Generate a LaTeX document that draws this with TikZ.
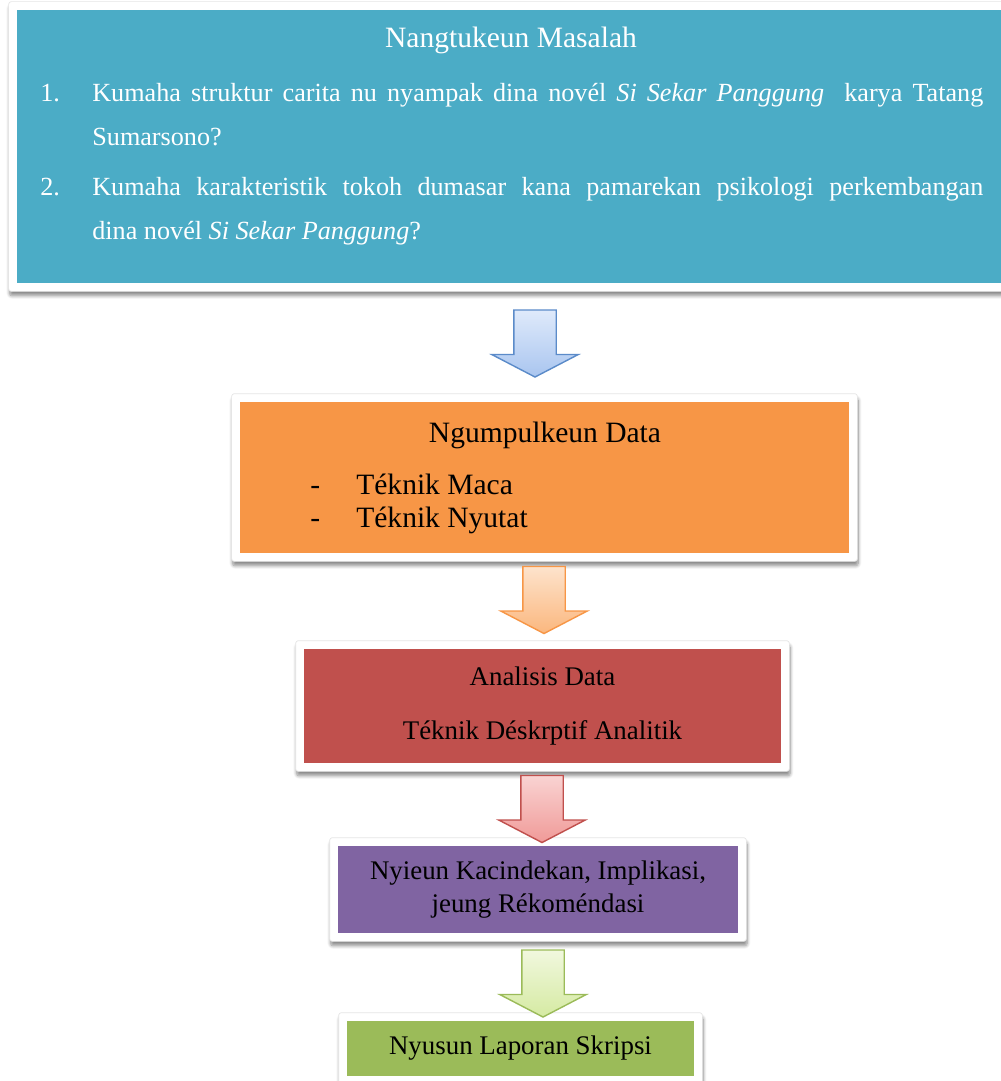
\documentclass[tikz,border=0pt]{standalone}
\usepackage{fontspec}
\setmainfont{Liberation Serif}
\usetikzlibrary{shapes.arrows,shadows.blur,fit,backgrounds}

\definecolor{aqua}{HTML}{4BACC6}
\definecolor{tangerine}{HTML}{F79646}
\definecolor{brick}{HTML}{C0504D}
\definecolor{lilac}{HTML}{8064A2}
\definecolor{olive}{HTML}{9BBB59}
\definecolor{aquaarrow}{HTML}{5B8BC9}
\definecolor{bluetop}{HTML}{DFEAFB}
\definecolor{bluebot}{HTML}{A9C5EF}
\definecolor{orangetop}{HTML}{FDE3CC}
\definecolor{orangebot}{HTML}{FBB77E}
\definecolor{redtop}{HTML}{F9D3D2}
\definecolor{redbot}{HTML}{F09A98}
\definecolor{greentop}{HTML}{F1F8DE}
\definecolor{greenbot}{HTML}{D5EAA2}

\tikzset{
  box/.style={rectangle, inner sep=0pt, align=center, fill=#1},
  frame/.style={rectangle, fill=white, draw=black!10, rounded corners=1.5pt, inner sep=0.16cm,
    blur shadow={shadow xshift=0.5pt, shadow yshift=-2.5pt, shadow blur steps=8, shadow opacity=45}},
  blockarrow/.style n args={3}{single arrow, shape border rotate=270, draw=#1, line width=0.8pt,
    top color=#2, bottom color=#3, inner sep=0.41cm, minimum height=1.34cm,
    single arrow head extend=0.44cm, single arrow tip angle=125},
  txt/.style={font=\fontsize{16.8}{25}\selectfont},
  small/.style={font=\fontsize{15.3}{#1}\selectfont}
}

\begin{document}
\begin{tikzpicture}[x=0.2mm, y=-0.2mm]
  \useasboundingbox (0,0) rectangle (1000,1081);

  % boxes
  \node[box=aqua, minimum width=19.86cm, minimum height=5.46cm] (masalah) at (513.5,146.5) {};
  \node[box=tangerine, minimum width=12.18cm, minimum height=3.02cm] (data) at (544.5,477.5) {};
  \node[box=brick, minimum width=9.54cm, minimum height=2.28cm, small=31]
    (analisis) at (542.5,706) {Analisis Data\\Téknik Déskrptif Analitik};
  \node[box=lilac, minimum width=8cm, minimum height=1.74cm, small=19]
    (kacindekan) at (538,889.5) {Nyieun Kacindekan, Implikasi,\\jeung Rékoméndasi};
  \node[box=olive, minimum width=6.94cm, minimum height=1.1cm, small=19] (laporan) at (520.5,1048.5)
    {\raisebox{-3pt}{Nyusun Laporan Skripsi}};

  \begin{scope}[on background layer]
    \foreach \b in {masalah,data,analisis,kacindekan,laporan}
      \node[frame, fit=(\b)] {};
  \end{scope}

  % texts
  \node[txt, text=white] (judul) at (511,40) {Nangtukeun Masalah};
  \node[font=\fontsize{14.9}{25}\selectfont, text=white, anchor=north west, text width=18.86cm,
        align=justify, inner sep=0pt] (rumusan) at (40,83)
    {\setlength\parskip{0.12cm}\hyphenpenalty=10000%
     \hangindent=1.04cm\hangafter=1\makebox[1.04cm][l]{1.}Kumaha struktur carita nu nyampak dina novél \textit{Si Sekar Panggung}\ \ karya Tatang\linebreak Sumarsono?\par
     \hangindent=1.04cm\hangafter=1\makebox[1.04cm][l]{2.}Kumaha karakteristik tokoh dumasar kana pamarekan psikologi perkembangan\linebreak dina novél \textit{Si Sekar Panggung}?\par};
  \node[txt] (ngumpul) at (545,435) {Ngumpulkeun Data};
  \node[txt, anchor=west, align=left, inner sep=0pt, font=\fontsize{16.8}{19}\selectfont] (teknik) at (310,504)
    {\makebox[0.92cm][l]{-}Téknik Maca\\\makebox[0.92cm][l]{-}Téknik Nyutat};

  % arrows
  \node[blockarrow={aquaarrow}{bluetop}{bluebot}] (a1) at (535,338) {};
  \node[blockarrow={tangerine}{orangetop}{orangebot}] (a2) at (544,594.5) {};
  \node[blockarrow={brick}{redtop}{redbot}] (a3) at (542,803.5) {};
  \node[blockarrow={olive}{greentop}{greenbot}] (a4) at (543,978) {};
\end{tikzpicture}
\end{document}
